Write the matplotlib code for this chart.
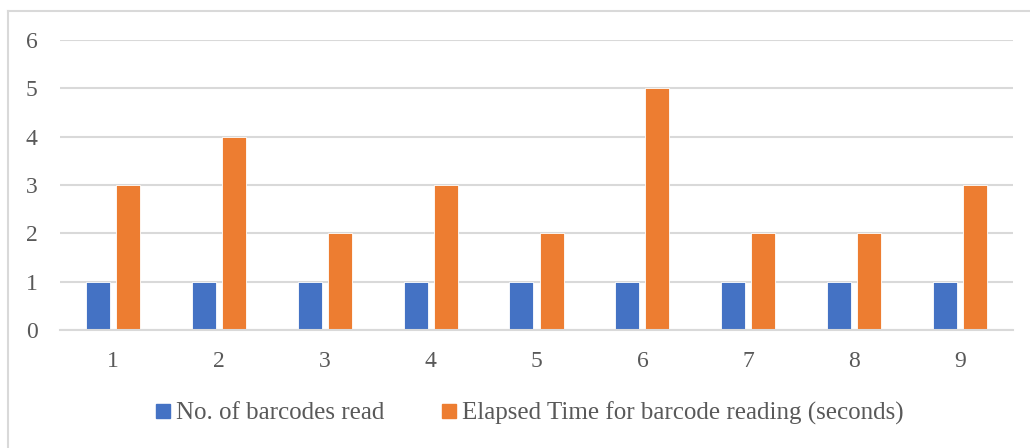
import matplotlib
matplotlib.use("Agg")
import matplotlib.pyplot as plt
import numpy as np
from matplotlib.lines import Line2D

categories = ["1", "2", "3", "4", "5", "6", "7", "8", "9"]
barcodes_read = [1, 1, 1, 1, 1, 1, 1, 1, 1]
elapsed_seconds = [3, 4, 2, 3, 2, 5, 2, 2, 3]
series_names = ["No. of barcodes read", "Elapsed Time for barcode reading (seconds)"]
y_ticks = [0, 1, 2, 3, 4, 5, 6]

BLUE = "#4472C4"
ORANGE = "#ED7D31"
TEXT = "#595959"
GRID = "#D9D9D9"

plt.rcParams["font.family"] = ["Liberation Serif", "DejaVu Serif"]

W, H = 1030, 448
fig = plt.figure(figsize=(W / 100, H / 100), dpi=100)
ax = fig.add_axes([60 / W, (H - 330) / H, (1013 - 60) / W, (330 - 40) / H])

x = np.arange(len(categories))
width = 0.227
offset = 0.142
ax.bar(x - offset, barcodes_read, width, color=BLUE, edgecolor="white", linewidth=0.6, zorder=3)
ax.bar(x + offset, elapsed_seconds, width, color=ORANGE, edgecolor="white", linewidth=0.6, zorder=3)

ax.set_xlim(-0.5, len(categories) - 0.5)
ax.set_ylim(0, 6)
ax.set_yticks(y_ticks)
ax.set_xticks(x)
ax.set_xticklabels(categories)
ax.yaxis.grid(True, color=GRID, linewidth=1.5, zorder=0)
for s in ["top", "right", "left"]:
    ax.spines[s].set_visible(False)
ax.spines["bottom"].set_color(GRID)
ax.spines["bottom"].set_linewidth(1.5)
ax.spines["bottom"].set_zorder(4)
ax.tick_params(axis="both", length=0, colors=TEXT, labelsize=17)
ax.tick_params(axis="y", pad=16)
ax.tick_params(axis="x", pad=15)

handles = [
    Line2D([], [], marker="s", linestyle="none", markersize=10, color=BLUE),
    Line2D([], [], marker="s", linestyle="none", markersize=10, color=ORANGE),
]
leg = fig.legend(handles, series_names, loc="center", bbox_to_anchor=(530 / W, (H - 413) / H),
                 ncol=2, frameon=False, fontsize=18, handlelength=0.56, handletextpad=0.24,
                 columnspacing=2.3)
for t in leg.get_texts():
    t.set_color(TEXT)

# chart-area frame (left and top edges)
fig.add_artist(Line2D([8 / W, 8 / W], [0, (H - 11) / H], transform=fig.transFigure, color=GRID, linewidth=1.5))
fig.add_artist(Line2D([8 / W, 1], [(H - 11) / H, (H - 11) / H], transform=fig.transFigure, color=GRID, linewidth=1.5))

fig.savefig("out.png", dpi=100)
